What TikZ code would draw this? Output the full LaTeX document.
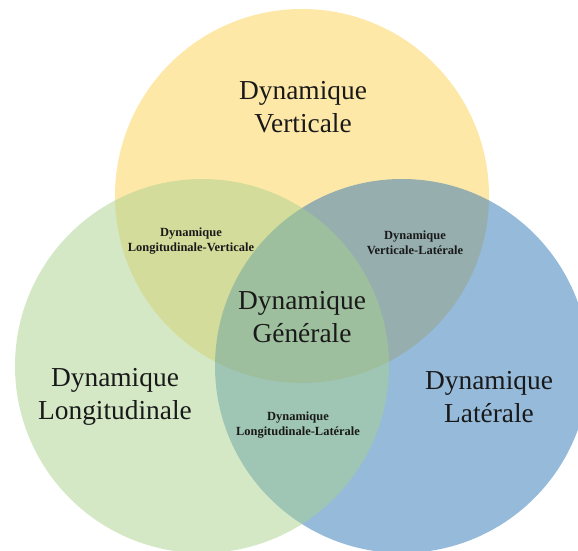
\documentclass[tikz,border=0pt]{standalone}
\usepackage{fontspec}
\setmainfont{Liberation Serif}
\definecolor{jauneV}{HTML}{FDD151}
\definecolor{vertL}{HTML}{A9D18E}
\definecolor{bleuLat}{HTML}{2E75B6}
\tikzset{disque/.style={fill opacity=0.5, draw=none},
  grand/.style={align=center, text=black!90, font=\fontsize{27.5}{33}\selectfont},
  petit/.style={align=center, text=black!90, font=\bfseries\fontsize{12.5}{15}\selectfont}}
\begin{document}
\begin{tikzpicture}  % ------ Les trois dynamiques --------------
      [x=1bp, y=-1bp]

    \useasboundingbox (0,0) rectangle (578,551);
    \clip (0,0) rectangle (578,551);

    \coordinate (V) at (302,196);    
    \coordinate (Lo) at (202,366);
    \coordinate (La) at (402,366);  

    \fill[disque, jauneV] (V) circle (187);
    \fill[disque, bleuLat] (La) circle (187);
    \fill[disque, vertL] (Lo) circle (187);

    \node[grand] (nV) at (303,107) {Dynamique\\Verticale};
    \node[grand] (nLo) at (115,397) {Dynamique\\Longitudinale};
    \node[grand] (nLa) at (489,397) {Dynamique\\Latérale};
    \node[grand] (nG) at (302,317) {Dynamique\\Générale};

    \node[petit] (nLoV) at (191,241) {Dynamique\\Longitudinale-Verticale};
    \node[petit] (nVLa) at (415,243) {Dynamique\\Verticale-Latérale};
    \node[petit] (nLoLa) at (298,425) {Dynamique\\Longitudinale-Latérale};
\end{tikzpicture}
\end{document}
